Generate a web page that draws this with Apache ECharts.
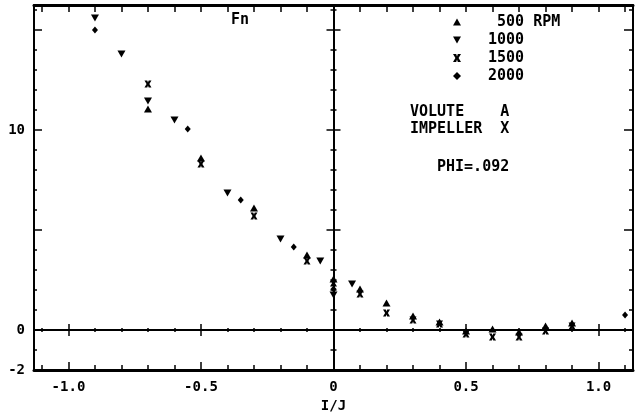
<!DOCTYPE html>
<html>
<head>
<meta charset="utf-8">
<script src="https://cdn.jsdelivr.net/npm/echarts@6/dist/echarts.min.js"></script>
<style>
html,body{margin:0;padding:0;background:#fff;}
#chart{width:638px;height:418px;}
</style>
</head>
<body>
<div id="chart"></div>
<script>
// ---- data ----
const x500  = [-0.7, -0.5, -0.3, -0.1, 0, 0.1, 0.2, 0.3, 0.4, 0.5, 0.6, 0.7, 0.8, 0.9];
const y500  = [11.05, 8.6, 6.1, 3.75, 2.55, 2.05, 1.35, 0.7, 0.4, -0.05, 0.05, -0.1, 0.2, 0.35];
const x1000 = [-0.9, -0.8, -0.7, -0.6, -0.4, -0.2, -0.05, 0, 0.07];
const y1000 = [15.6, 13.8, 11.45, 10.5, 6.85, 4.55, 3.45, 1.75, 2.3];
const x1500 = [-0.7, -0.5, -0.3, -0.1, 0, 0.1, 0.2, 0.3, 0.4, 0.5, 0.6, 0.7, 0.8, 0.9];
const y1500 = [12.3, 8.3, 5.7, 3.45, 2.35, 1.8, 0.85, 0.5, 0.3, -0.2, -0.35, -0.35, -0.05, 0.2];
const x2000 = [-0.9, -0.55, -0.35, -0.15, 0, 1.1];
const y2000 = [15.0, 10.05, 6.5, 4.15, 2.05, 0.75];
const seriesNames = [' 500 RPM', '1000', '1500', '2000'];

// ---- axis ticks / labels ----
const xMinorTicks = [-1.1,-1.0,-0.9,-0.8,-0.7,-0.6,-0.5,-0.4,-0.3,-0.2,-0.1,0,0.1,0.2,0.3,0.4,0.5,0.6,0.7,0.8,0.9,1.0,1.1];
const xMajorTicks = [-1.0,-0.5,0,0.5,1.0];
const xTickLabels = [-1.0,-0.5,0,0.5,1.0];
const yMinorTicks = [-2,-1,0,1,2,3,4,5,6,7,8,9,10,11,12,13,14,15,16];
const yMajorTicks = [0,5,10,15];
const yTickLabels = [-2,0,10];
const xMin = -1.13, xMax = 1.13, yMin = -2, yMax = 16.25;

const FONT = 'DejaVu Sans Mono';
const black = '#000';

function pairs(xs, ys){ return xs.map((x,i)=>[x, ys[i]]); }

function xAx(opts){
  return Object.assign({
    type:'value', min:xMin, max:xMax, gridIndex:0,
    splitLine:{show:false},
    axisLine:{show:false, onZero:false, lineStyle:{color:black, width:2}},
    axisTick:{show:false},
    axisLabel:{show:false}
  }, opts);
}
function yAx(opts){
  return Object.assign({
    type:'value', min:yMin, max:yMax, gridIndex:0,
    splitLine:{show:false},
    axisLine:{show:false, onZero:false, lineStyle:{color:black, width:2}},
    axisTick:{show:false},
    axisLabel:{show:false}
  }, opts);
}
const tk = (vals, len, inside, w) => ({show:true, customValues:vals, length:len, inside:inside, lineStyle:{color:black, width:w||1.5}});

const xAxes = [
  xAx({position:'bottom',
    axisLine:{show:true, onZero:false, lineStyle:{color:black, width:3}},
    axisTick:tk(xMinorTicks,5,true),
    axisLabel:{show:true, customValues:xTickLabels, margin:10, color:black,
      fontFamily:FONT, fontWeight:'bold', fontSize:14,
      formatter:v => v === 0 ? '0' : v.toFixed(1)},
    name:'I/J', nameLocation:'middle', nameGap:26,
    nameTextStyle:{color:black, fontFamily:FONT, fontWeight:'bold', fontSize:14}
  }),
  xAx({position:'bottom', axisTick:tk(xMajorTicks,8,true)}),
  xAx({position:'top',
    axisLine:{show:true, onZero:false, lineStyle:{color:black, width:3}},
    axisTick:tk(xMinorTicks,7,true)}),
  xAx({position:'bottom',
    axisLine:{show:true, onZero:true, onZeroAxisIndex:0, lineStyle:{color:black, width:2}},
    axisTick:tk(xMinorTicks,2,true)}),
  xAx({position:'bottom', axisLine:{show:false, onZero:true, onZeroAxisIndex:0}, axisTick:tk(xMinorTicks,2,false)}),
  xAx({position:'bottom', axisLine:{show:false, onZero:true, onZeroAxisIndex:0}, axisTick:tk(xMajorTicks,6,true)}),
  xAx({position:'bottom', axisLine:{show:false, onZero:true, onZeroAxisIndex:0}, axisTick:tk(xMajorTicks,6,false)})
];

const yAxes = [
  yAx({position:'left',
    axisLine:{show:true, onZero:false, lineStyle:{color:black, width:2}},
    axisTick:tk(yMinorTicks,3,true),
    axisLabel:{show:true, customValues:yTickLabels, margin:9, color:black,
      fontFamily:FONT, fontWeight:'bold', fontSize:14, formatter:v => String(v)}
  }),
  yAx({position:'left', axisTick:tk(yMajorTicks,8,true)}),
  yAx({position:'right',
    axisLine:{show:true, onZero:false, lineStyle:{color:black, width:2}},
    axisTick:tk(yMinorTicks,4,true)}),
  yAx({position:'right', axisTick:tk(yMajorTicks,9,true)}),
  yAx({position:'left',
    axisLine:{show:true, onZero:true, onZeroAxisIndex:0, lineStyle:{color:black, width:2}},
    axisTick:tk(yMinorTicks,3,true)}),
  yAx({position:'left', axisLine:{show:false, onZero:true, onZeroAxisIndex:0}, axisTick:tk(yMinorTicks,3,false)}),
  yAx({position:'left', axisLine:{show:false, onZero:true, onZeroAxisIndex:0}, axisTick:tk(yMajorTicks,7,true)}),
  yAx({position:'left', axisLine:{show:false, onZero:true, onZeroAxisIndex:0}, axisTick:tk(yMajorTicks,7,false)})
];

const upPath   = 'path://M5,0 L10,9 L0,9 Z';
const downPath = 'path://M0,0 L10,0 L5,9 Z';
const starPath = 'path://M0,0 L4,0 L5,3 L6,0 L10,0 L7,5 L10,10 L6,10 L5,7 L4,10 L0,10 L3,5 Z';
const diamPath = 'path://M5,0 L10,5 L5,10 L0,5 Z';

const textStyleMono = {fontFamily:FONT, fontWeight:'bold', fontSize:15, fill:black};
const mk = {color:black, opacity:1};

const option = {
  backgroundColor:'#fff',
  animation:false,
  grid:{left:34, right:5, top:5, bottom:48, containLabel:false, outerBoundsMode:'none'},
  title:{text:'Fn', left:231, top:13, padding:0,
    textStyle:{color:black, fontFamily:FONT, fontWeight:'bold', fontSize:15}},
  legend:{
    orient:'vertical', left:453, top:14, padding:0,
    itemWidth:8, itemHeight:8, itemGap:2,
    selectedMode:false,
    itemStyle:{opacity:1},
    textStyle:{color:black, fontFamily:FONT, fontWeight:'bold', fontSize:15, lineHeight:16, padding:[0,0,0,22]},
    data:seriesNames
  },
  xAxis:xAxes,
  yAxis:yAxes,
  series:[
    {name:seriesNames[0], type:'scatter', symbol:upPath, symbolSize:[8,7],
      itemStyle:mk, data:pairs(x500,y500)},
    {name:seriesNames[1], type:'scatter', symbol:downPath, symbolSize:[8,7],
      itemStyle:mk, data:pairs(x1000,y1000)},
    {name:seriesNames[2], type:'scatter', symbol:starPath, symbolSize:[7,7],
      itemStyle:mk, data:pairs(x1500,y1500)},
    {name:seriesNames[3], type:'scatter', symbol:diamPath, symbolSize:[6,7],
      itemStyle:mk, data:pairs(x2000,y2000)}
  ],
  graphic:[
    {type:'text', left:410, top:105, style:Object.assign({text:'VOLUTE    A'}, textStyleMono)},
    {type:'text', left:410, top:122, style:Object.assign({text:'IMPELLER  X'}, textStyleMono)},
    {type:'text', left:437, top:160, style:Object.assign({text:'PHI=.092'}, textStyleMono)}
  ]
};

const chart = echarts.init(document.getElementById('chart'), null, {renderer:'canvas'});
chart.setOption(option);
</script>
</body>
</html>
